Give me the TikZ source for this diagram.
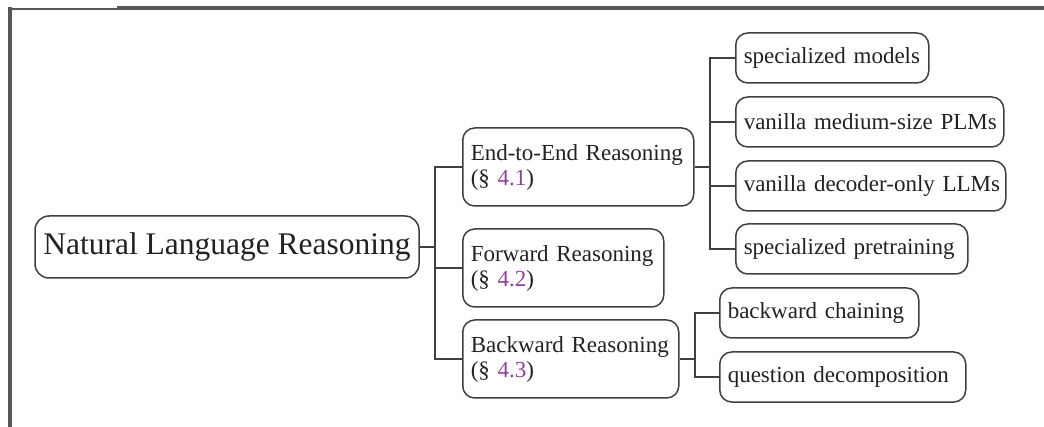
\documentclass[tikz,border=0pt]{standalone}
\usepackage{fontspec}
\setmainfont{Liberation Serif}
\definecolor{framegray}{RGB}{88,88,88}
\definecolor{edgegray}{RGB}{64,64,64}
\definecolor{inkgray}{RGB}{34,34,34}
\definecolor{refpurple}{RGB}{145,62,160}
\newcommand{\secref}[1]{(\S~\textcolor{refpurple}{#1})}
\newcommand{\oneline}[1]{\mbox{#1}}
\begin{document}
\begin{tikzpicture}[x=1pt,y=-1pt,
  box/.style={draw=edgegray, line width=1.5pt, rounded corners=12pt, fill=white, text=inkgray},
  rootbox/.style={box, rounded corners=14pt, minimum width=384pt, minimum height=62pt,
    inner sep=0pt, font=\fontsize{31.5}{36}\selectfont},
  midbox/.style={box, anchor=west, align=left, inner xsep=8pt, inner ysep=0pt,
    minimum height=78pt, font=\fontsize{23}{25}\selectfont},
  leafbox/.style={box, anchor=west, align=left, inner xsep=8pt, inner ysep=0pt,
    minimum height=50pt, font=\fontsize{23}{25}\selectfont},
  link/.style={draw=edgegray, line width=1.7pt},
  framerule/.style={draw=framegray, line cap=butt}
]
\useasboundingbox (0,0) rectangle (1044,427);

% page frame
\draw[framerule, line width=2.5pt] (8,9.2) -- (118,9.2);
\draw[framerule, line width=4pt] (117,8) -- (1044,8);
\draw[framerule, line width=4pt] (10,7.5) -- (10,427);

% root
\node[rootbox] (nlr) at (227,247) {Natural Language Reasoning};

% second level
\node[midbox, text width=215pt] (e2e) at (462,167) {\oneline{End-to-End Reasoning}\\\secref{4.1}};
\node[midbox, text width=185pt] (fwd) at (462,268) {\oneline{Forward Reasoning}\\\secref{4.2}};
\node[midbox, text width=200pt] (bwd) at (462,359) {\oneline{Backward Reasoning}\\\secref{4.3}};

% leaves of end-to-end reasoning
\node[leafbox, text width=177pt] (spm) at (735,58) {\oneline{specialized models}};
\node[leafbox, text width=252pt] (vmp) at (735,122) {\oneline{vanilla medium-size PLMs}};
\node[leafbox, text width=254pt] (vdo) at (735,186) {\oneline{vanilla decoder-only LLMs}};
\node[leafbox, text width=216pt] (spt) at (735,249) {\oneline{specialized pretraining}};

% leaves of backward reasoning
\node[leafbox, text width=183pt] (bch) at (719,313) {\oneline{backward chaining}};
\node[leafbox, text width=230pt] (qdc) at (719,377) {\oneline{question decomposition}};

% junctions
\coordinate (j0) at (435,247);
\coordinate (j1) at (710,167);
\coordinate (j2) at (695,359);

% connectors
\draw[link] (nlr.east) -- (j0);
\draw[link] (j0) |- (e2e.west);
\draw[link] (j0) |- (fwd.west);
\draw[link] (j0) |- (bwd.west);

\draw[link] (e2e.east) -- (j1);
\draw[link] (j1) |- (spm.west);
\draw[link] (j1) |- (vmp.west);
\draw[link] (j1) |- (vdo.west);
\draw[link] (j1) |- (spt.west);

\draw[link] (bwd.east) -- (j2);
\draw[link] (j2) |- (bch.west);
\draw[link] (j2) |- (qdc.west);
\end{tikzpicture}
\end{document}
